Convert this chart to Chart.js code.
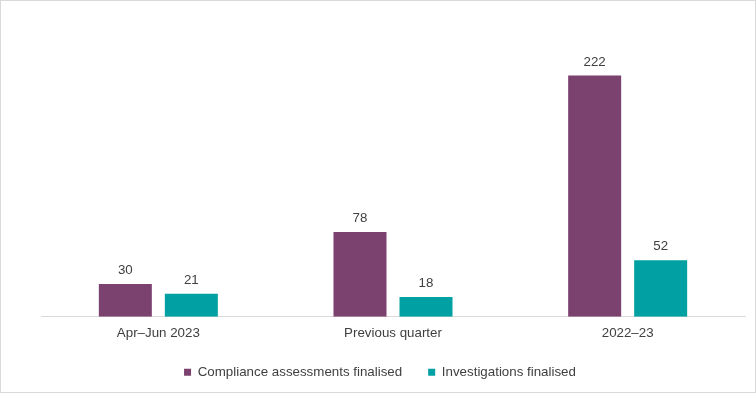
<!DOCTYPE html>
<html>
<head>
<meta charset="utf-8">
<script src="https://cdn.jsdelivr.net/npm/chart.js@4"></script>
<style>
html,body{margin:0;padding:0;background:#fff;}
#wrap{width:756px;height:393px;position:relative;}
</style>
</head>
<body>
<div id="wrap"><canvas id="c" width="756" height="393"></canvas></div>
<script>
const categories = ["Apr\u2013Jun 2023", "Previous quarter", "2022\u201323"];
const seriesNames = ["Compliance assessments finalised", "Investigations finalised"];
const complianceValues = [30, 78, 222];
const investigationValues = [21, 18, 52];

const FONT = "'Liberation Sans', Arial, sans-serif";
const TEXT = "#404040";

const bgBorder = {
  id: 'bgBorder',
  beforeDraw(chart) {
    const ctx = chart.ctx;
    ctx.save();
    ctx.fillStyle = '#ffffff';
    ctx.fillRect(0, 0, chart.width, chart.height);
    ctx.strokeStyle = '#d9d9d9';
    ctx.lineWidth = 1;
    ctx.strokeRect(0.5, 0.5, chart.width - 1, chart.height - 1);
    ctx.restore();
  }
};

const valueLabels = {
  id: 'valueLabels',
  afterDatasetsDraw(chart) {
    const ctx = chart.ctx;
    ctx.save();
    ctx.font = "13.33px " + FONT;
    ctx.fillStyle = TEXT;
    ctx.textAlign = 'center';
    ctx.textBaseline = 'middle';
    chart.data.datasets.forEach((ds, i) => {
      chart.getDatasetMeta(i).data.forEach((bar, j) => {
        ctx.fillText(String(ds.data[j]), bar.x, bar.y - 13.5);
      });
    });
    // category labels via the x scale
    const xs = chart.scales.x;
    chart.data.labels.forEach((lab, j) => {
      ctx.fillText(lab, xs.getPixelForTick(j), xs.top + 17);
    });
    ctx.restore();
  }
};

new Chart(document.getElementById('c'), {
  type: 'bar',
  data: {
    labels: categories,
    datasets: [
      { label: seriesNames[0], data: complianceValues, backgroundColor: '#7b416f',
        categoryPercentage: 0.5625, barPercentage: 0.803 },
      { label: seriesNames[1], data: investigationValues, backgroundColor: '#00a0a3',
        categoryPercentage: 0.5625, barPercentage: 0.803 }
    ]
  },
  options: {
    responsive: false,
    animation: false,
    devicePixelRatio: 1,
    layout: { padding: { left: 4, right: 0, top: 45, bottom: 4 } },
    plugins: {
      legend: {
        position: 'bottom',
        labels: {
          boxWidth: 7, boxHeight: 7, padding: 26,
          color: TEXT,
          font: { family: FONT, size: 13.33 }
        }
      },
      tooltip: { enabled: false }
    },
    scales: {
      x: {
        grid: { display: false, drawTicks: false },
        border: { display: true, color: '#d9d9d9', width: 1 },
        ticks: { display: false },
        afterFit(s) { s.height = 23; }
      },
      y: {
        min: 0, max: 250,
        position: 'left',
        grid: { display: false, drawTicks: false },
        border: { display: false },
        ticks: { display: false },
        afterFit(s) { s.width = 37; }
      },
      y2: {
        min: 0, max: 250,
        position: 'right',
        grid: { display: false, drawTicks: false },
        border: { display: false },
        ticks: { display: false },
        afterFit(s) { s.width = 11; }
      }
    }
  },
  plugins: [bgBorder, valueLabels]
});
</script>
</body>
</html>
